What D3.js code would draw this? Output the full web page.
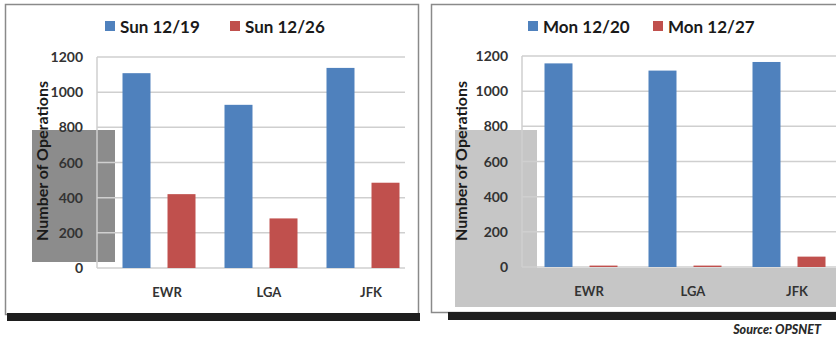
<!DOCTYPE html>
<html>
<head>
<meta charset="utf-8">
<script src="https://cdn.jsdelivr.net/npm/d3@7"></script>
<style>
  body { margin: 0; background: #fff; }
  text { font-family: Lato, "Open Sans", sans-serif; }
  .legend-text { font-size: 17px; font-weight: bold; fill: #1a1a1a; }
  .tick-text { font-size: 14px; font-weight: bold; fill: #333; }
  .cat-text { font-size: 13px; font-weight: bold; fill: #333; }
  .ylab { font-size: 16px; font-weight: bold; fill: #1a1a1a; }
  .grid { stroke: #cfcfcf; stroke-width: 1.5; }
  .source { font-size: 12.5px; font-weight: 900; font-style: italic; fill: #2a2a2a; }
</style>
</head>
<body>
<div id="chart"></div>
<script>
/*global d3*/

// data
var airports = ["EWR", "LGA", "JFK"],
    yTicks = [0, 200, 400, 600, 800, 1000, 1200],
    sundays = ["Sun 12/19", "Sun 12/26"],
    sun1219 = [1108, 928, 1138],
    sun1226 = [420, 282, 485],
    mondays = ["Mon 12/20", "Mon 12/27"],
    mon1220 = [1158, 1117, 1166],
    mon1227 = [8, 8, 59],
    colors = ["#4f81bd", "#c0504d"];

var svg = d3.select("#chart")
    .append("svg")
    .attr("width", 836)
    .attr("height", 339);

// panel frames + the grey blocks baked into the picture
svg.append("rect").attr("x", 5.5).attr("y", 4.5).attr("width", 413).attr("height", 310)
    .attr("fill", "#fff").attr("stroke", "#8a8a8a").attr("stroke-width", 1.5);
svg.append("rect").attr("x", 431.5).attr("y", 4.5).attr("width", 410).attr("height", 308)
    .attr("fill", "#fff").attr("stroke", "#8a8a8a").attr("stroke-width", 1.5);
svg.append("rect").attr("x", 32).attr("y", 130).attr("width", 83).attr("height", 132).attr("fill", "#8c8c8c");
svg.append("rect").attr("x", 455).attr("y", 130).attr("width", 82).attr("height", 177).attr("fill", "#c6c6c6");
svg.append("rect").attr("x", 455).attr("y", 268).attr("width", 381).attr("height", 39).attr("fill", "#c6c6c6");
svg.append("rect").attr("x", 7).attr("y", 313).attr("width", 413).attr("height", 8).attr("fill", "#1e1e1e");
svg.append("rect").attr("x", 448).attr("y", 312).attr("width", 388).attr("height", 8).attr("fill", "#1e1e1e");

function panel(p) {
    var g = svg.append("g"),
        y = d3.scaleLinear().domain([0, 1200]).range([p.y0, p.y1]),
        x0 = d3.scaleBand().domain(airports).range(p.band),
        x1 = d3.scaleBand().domain(p.series).range([-36.5, 36.5]).paddingInner(0.378),
        rows = airports.map(function (a, i) {
            return {airport: a, values: p.values.map(function (v, j) { return {key: p.series[j], value: v[i]}; })};
        });

    // gridlines
    g.selectAll(".grid")
        .data(yTicks)
        .enter().append("line")
        .attr("class", "grid")
        .attr("x1", p.gridX[0]).attr("x2", p.gridX[1])
        .attr("y1", function (d) { return y(d); })
        .attr("y2", function (d) { return y(d); });
    g.append("line")
        .attr("class", "grid")
        .attr("x1", p.gridX[0]).attr("x2", p.gridX[0])
        .attr("y1", y(0)).attr("y2", y(1200));

    g.selectAll(".tick-text")
        .data(yTicks)
        .enter().append("text")
        .attr("class", "tick-text")
        .attr("text-anchor", "end")
        .attr("x", p.gridX[0] - 14)
        .attr("y", function (d) { return y(d) + 5; })
        .text(function (d) { return d; });

    // bars
    g.selectAll(".grp")
        .data(rows)
        .enter().append("g")
        .attr("transform", function (d) { return "translate(" + (x0(d.airport) + x0.bandwidth() / 2) + ",0)"; })
        .selectAll("rect")
        .data(function (d) { return d.values; })
        .enter().append("rect")
        .attr("x", function (d) { return x1(d.key); })
        .attr("y", function (d) { return y(d.value); })
        .attr("width", x1.bandwidth())
        .attr("height", function (d) { return y(0) - y(d.value); })
        .attr("fill", function (d, i) { return colors[i]; });

    g.selectAll(".cat-text")
        .data(airports)
        .enter().append("text")
        .attr("class", "cat-text")
        .attr("text-anchor", "middle")
        .attr("x", function (d) { return x0(d) + x0.bandwidth() / 2 + 8; })
        .attr("y", y(0) + 29)
        .text(function (d) { return d; });

    g.append("text")
        .attr("class", "ylab")
        .attr("text-anchor", "middle")
        .attr("transform", "translate(" + p.ylabX + ",161) rotate(-90)")
        .text("Number of Operations");

    // legend
    var leg = g.selectAll(".leg")
        .data(p.series)
        .enter().append("g")
        .attr("transform", function (d, i) { return "translate(" + p.legX[i] + ",21)"; });
    leg.append("rect").attr("width", 10).attr("height", 10)
        .attr("fill", function (d, i) { return colors[i]; });
    leg.append("text").attr("class", "legend-text").attr("x", 15).attr("y", 12)
        .text(function (d) { return d; });
}

panel({series: sundays, values: [sun1219, sun1226], y0: 268, y1: 57,
       band: [108, 414], gridX: [97, 405], ylabX: 48, legX: [105, 230]});
panel({series: mondays, values: [mon1220, mon1227], y0: 267, y1: 56,
       band: [529, 841], gridX: [522, 836], ylabX: 467, legX: [528, 653]});

svg.append("text")
    .attr("class", "source")
    .attr("x", 821)
    .attr("y", 334)
    .attr("text-anchor", "end")
    .text("Source: OPSNET");
</script>
</body>
</html>
